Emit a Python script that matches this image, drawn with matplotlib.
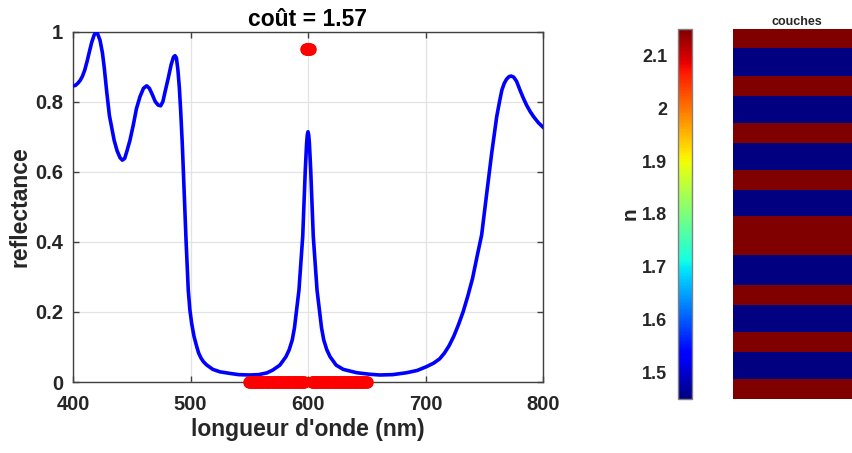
import numpy as np
import matplotlib
matplotlib.use("Agg")
import matplotlib.pyplot as plt
from matplotlib.ticker import FuncFormatter

plt.rcParams["font.family"] = ["Liberation Sans", "DejaVu Sans"]
plt.rcParams["font.weight"] = "bold"

# spectre de reflectance
wavelength_nm = [
    400, 402, 404, 406, 408, 410, 412, 414, 416, 418, 419.6, 421, 423, 425,
    426.5, 428.7, 431, 433, 435, 437.5, 440, 442, 444, 446, 448.5, 451.3, 454,
    457, 460, 462.7, 465, 467.5, 470, 472.5, 474.6, 476.5, 478.5, 481, 483.5,
    485.5, 486.8, 488, 489.3, 490.5, 491.7, 493, 494, 496.2, 498.1, 499.5,
    501, 503, 505.3, 507, 509, 511, 513.8, 519, 525.1, 533.6, 541, 550, 558,
    565, 570, 576, 581.2, 584, 586.6, 588.5, 590.1, 592.3, 595.5, 597.7,
    598.8, 599.4, 600, 600.6, 601.2, 602.3, 604.5, 607.7, 609.9, 611.5,
    613.4, 616, 618.8, 624, 630, 641.4, 652.8, 661, 672, 684, 693, 701, 707,
    712, 716, 720, 724, 728, 732, 736, 740, 744, 747.8, 752.1, 756.3, 760.6,
    763, 765, 767, 769, 771, 772.8, 775, 777.5, 780.4, 783, 786, 789, 792,
    796, 800,
]
reflectance = [
    0.845, 0.846, 0.852, 0.860, 0.872, 0.890, 0.915, 0.943, 0.970, 0.990,
    0.998, 0.993, 0.975, 0.940, 0.900, 0.828, 0.760, 0.725, 0.690, 0.660,
    0.640, 0.633, 0.638, 0.660, 0.690, 0.733, 0.780, 0.814, 0.838, 0.845,
    0.838, 0.820, 0.800, 0.790, 0.788, 0.800, 0.830, 0.866, 0.905, 0.927,
    0.931, 0.925, 0.890, 0.840, 0.770, 0.680, 0.595, 0.405, 0.262, 0.205,
    0.167, 0.130, 0.101, 0.082, 0.068, 0.058, 0.0485, 0.036, 0.029, 0.0245,
    0.021, 0.020, 0.021, 0.026, 0.034, 0.048, 0.072, 0.092, 0.120, 0.155,
    0.200, 0.262, 0.415, 0.605, 0.680, 0.705, 0.714, 0.705, 0.680, 0.605,
    0.415, 0.262, 0.200, 0.155, 0.120, 0.092, 0.072, 0.048, 0.036, 0.0265,
    0.022, 0.020, 0.021, 0.0265, 0.033, 0.044, 0.054, 0.066, 0.082, 0.103,
    0.130, 0.163, 0.200, 0.245, 0.295, 0.360, 0.420, 0.538, 0.652, 0.757,
    0.800, 0.833, 0.852, 0.864, 0.871, 0.873, 0.870, 0.858, 0.833, 0.812,
    0.790, 0.772, 0.757, 0.740, 0.727,
]

# cible : 0 entre 550 et 650 nm, 0.95 autour de 600 nm
target_wl_low = [w for w in range(550, 651) if not 598 <= w <= 602]
target_low = [0.0] * len(target_wl_low)
target_wl_high = [598, 599, 600, 601, 602]
target_high = [0.95] * len(target_wl_high)

cost = 1.57

# empilement des couches (de haut en bas)
layer_index = [2.15, 1.45, 2.15, 1.45, 2.15, 1.45, 2.15, 1.45,
               2.15, 1.45, 2.15, 1.45, 2.15, 1.45, 2.15]
layer_thickness_nm = [65, 101, 70, 98, 70, 96, 71, 93,
                      139, 107, 72, 95, 70, 98, 69]
n_min, n_max = 1.45, 2.15

W, H = 853, 453
fig = plt.figure(figsize=(W / 100, H / 100), dpi=100)

text_color = "#262626"
axis_color = "#404040"

# --- spectre ---
ax = fig.add_axes([73 / W, 1 - 382 / H, 470 / W, 350.5 / H])
ax.plot(wavelength_nm, reflectance, color="#0000ff", lw=2.6, zorder=3)
ax.plot(target_wl_low, target_low, "o", color="red", ms=8, mec="red",
        clip_on=False, zorder=4)
ax.plot(target_wl_high, target_high, "o", color="red", ms=8, mec="red",
        clip_on=False, zorder=4)
ax.set_xlim(400, 800)
ax.set_ylim(0, 1)
ax.set_xticks([400, 500, 600, 700, 800])
ax.set_yticks([0, 0.2, 0.4, 0.6, 0.8, 1])
ax.yaxis.set_major_formatter(FuncFormatter(lambda v, p: f"{v:g}"))
ax.grid(True, color="#e3e3e3", lw=0.9)
ax.set_axisbelow(True)
ax.tick_params(direction="in", length=4, width=1, color=axis_color,
               labelsize=14.5, labelcolor=text_color, top=True, right=True)
ax.tick_params(axis="x", pad=9)
ax.tick_params(axis="y", pad=7)
for lab in ax.get_xticklabels() + ax.get_yticklabels():
    lab.set_fontweight("bold")
for sp in ax.spines.values():
    sp.set_color(axis_color)
    sp.set_linewidth(1)
ax.set_xlabel("longueur d'onde (nm)", fontsize=16.5, fontweight="bold",
              color=text_color, labelpad=3)
ax.set_ylabel("reflectance", fontsize=16.5, fontweight="bold",
              color=text_color, labelpad=3)
ax.set_title(f"coût = {cost}", fontsize=16.5, fontweight="bold",
             color="black", pad=4)

# --- barre de couleur ---
cax = fig.add_axes([678.3 / W, 1 - 398.7 / H, 14 / W, 369.4 / H])
sm = plt.cm.ScalarMappable(cmap="jet", norm=plt.Normalize(n_min, n_max))
cb = fig.colorbar(sm, cax=cax, ticklocation="left")
cb.set_ticks([1.5, 1.6, 1.7, 1.8, 1.9, 2.0, 2.1])
cb.ax.yaxis.set_major_formatter(FuncFormatter(lambda v, p: f"{v:g}"))
cb.ax.tick_params(direction="in", length=0, labelsize=13,
                  labelcolor=text_color, pad=8)
for lab in cb.ax.get_yticklabels():
    lab.set_fontweight("bold")
cb.outline.set_edgecolor("#808080")
cb.outline.set_linewidth(1)
cb.set_label("n", fontsize=15, fontweight="bold", color=text_color,
             labelpad=2)

# --- couches ---
lax = fig.add_axes([733 / W, 1 - 398.7 / H, 128 / W, 369.4 / H])
edges = np.concatenate([[0], np.cumsum(layer_thickness_nm)])
lax.pcolormesh([0, 1], edges, np.array(layer_index)[:, None], cmap="jet",
               vmin=n_min, vmax=n_max)
lax.set_ylim(edges[-1], 0)
lax.set_xlim(0, 1)
lax.axis("off")
lax.set_title("couches", fontsize=9, fontweight="bold", color=text_color,
              pad=3)

fig.savefig("out.png", dpi=100)
